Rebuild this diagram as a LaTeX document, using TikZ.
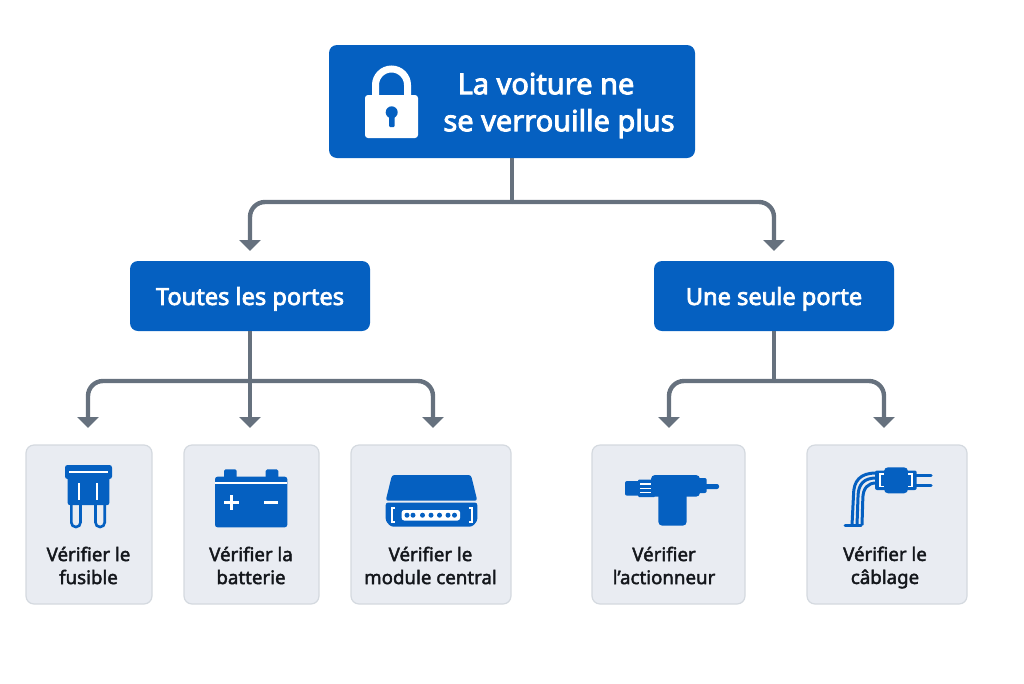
\documentclass[tikz,border=0pt]{standalone}
\usepackage{fontspec}
\setmainfont{Noto Sans}
\newfontfamily\leaffont[FakeBold=2.2]{Noto Sans}
\newfontfamily\boxfont[FakeBold=3]{Noto Sans}
\usetikzlibrary{calc,positioning,arrows.meta}
\definecolor{mainblue}{HTML}{0560C1}
\definecolor{linegrey}{HTML}{66717E}
\definecolor{leaffill}{HTML}{E9ECF2}
\definecolor{leafline}{HTML}{D4D9DF}
\definecolor{ink}{HTML}{14171C}

\begin{document}
\begin{tikzpicture}[
      x=1pt, y=-1pt,
      box/.style={rounded corners=8pt, fill=mainblue, text=white, inner sep=0pt, outer sep=0pt, text depth=0pt, font=\boxfont\fontsize{23.6}{28}\selectfont},
      leaf/.style={rounded corners=8pt, draw=leafline, line width=1.2pt, fill=leaffill, inner sep=0pt, outer sep=0pt, minimum height=159pt},
      lbl/.style={align=center, text=ink, inner sep=0pt, font=\leaffont\fontsize{18.7}{23}\selectfont},
      stem/.style={draw=linegrey, line width=4.4pt},
      arr/.style={draw=linegrey, line width=4.4pt, rounded corners=15pt, -{Triangle[width=21pt,length=11pt]}},
      ico/.style={fill=mainblue},
      wire/.style={draw=mainblue, line width=3pt}
    ]
    \useasboundingbox (0,0) rectangle (1024,683);

    % Top box
    \node[box, minimum width=366pt, minimum height=113pt] (root) at (512,101.5) {};
    \node[align=center, text=white, inner sep=0pt, font=\boxfont\fontsize{29}{37}\selectfont] (roottext) at (559,105.5) {La voiture ne\hspace*{26pt}\\se verrouille plus};

    % Lock
    \draw[white, line width=7pt] (375.5,98) -- (375.5,85) arc[start angle=180, end angle=360, radius=16] -- (407.5,98);
    \fill[white, rounded corners=3pt] (365,95) rectangle (418,138);
    \fill[mainblue] (391.7,112.3) circle (6);
    \fill[mainblue, rounded corners=1pt] (389,113) rectangle (394.5,127);

    % Row 2
    \node[box, minimum width=240pt, minimum height=70pt] (toutes) at (250,296) {Toutes les portes};
    \node[box, minimum width=240pt, minimum height=70pt] (uneseule) at (774,296) {Une seule porte};

    % Row 3
    \node[leaf, minimum width=126pt] (fusible)   at (89,524.5) {};
    \node[leaf, minimum width=135pt] (batterie)  at (251.5,524.5) {};
    \node[leaf, minimum width=160pt] (module)    at (431,524.5) {};
    \node[leaf, minimum width=153pt] (actionneur) at (668.5,524.5) {};
    \node[leaf, minimum width=160pt] (cablage)   at (887,524.5) {};

    \node[lbl] (lfusible)    at (88.5,565.5) {Vérifier le\\fusible};
    \node[lbl] (lbatterie)   at (251,565.5) {Vérifier la\\batterie};
    \node[lbl] (lmodule)     at (430.5,565.5) {Vérifier le\\module central};
    \node[lbl] (lactionneur) at (664,565.5) {Vérifier\\l’actionneur};
    \node[lbl] (lcablage)    at (885,567.5) {Vérifier le\\câblage};

    % Arrows
    \coordinate (trunk) at (512,202);
    \coordinate (splitl) at (250,381);
    \coordinate (splitr) at (774,381);
    \draw[stem] (root.south) -- (trunk);
    \draw[arr, shorten >=10pt] (trunk) -| (toutes.north);
    \draw[arr, shorten >=10pt] (trunk) -| (uneseule.north);
    \draw[arr, shorten >=17pt] (toutes.south) -- (toutes.south |- batterie.north);
    \draw[arr, shorten >=17pt] (splitl) -| ([xshift=-1pt]fusible.north);
    \draw[arr, shorten >=17pt] (splitl) -| ([xshift=2pt]module.north);
    \draw[stem] (uneseule.south) -- (splitr);
    \draw[arr, shorten >=17pt] (splitr) -| ([xshift=0.5pt]actionneur.north);
    \draw[arr, shorten >=17pt] (splitr) -| ([xshift=-3pt]cablage.north);

    % Fuse
    \draw[mainblue, line width=2.6pt, rounded corners=4.5pt] (71.3,500) -- (71.3,527) -- (80.5,527) -- (80.5,500);
    \draw[mainblue, line width=2.6pt, rounded corners=4.5pt] (95.5,500) -- (95.5,527) -- (104.7,527) -- (104.7,500);
    \fill[ico, rounded corners=2pt] (67.7,470) rectangle (109.3,505);
    \fill[ico, rounded corners=2.5pt] (65,465) rectangle (112,479);
    \draw[white, line width=1.8pt] (69,471.7) -- (108,471.7);
    \draw[white, line width=2pt] (79,483) -- (79,500);
    \draw[white, line width=2pt] (96.5,483) -- (96.5,500);

    % Battery
    \fill[ico, rounded corners=1.5pt] (224,469.3) rectangle (236.7,480);
    \fill[ico, rounded corners=1.5pt] (265.7,469.3) rectangle (278.3,480);
    \fill[ico, rounded corners=2.5pt] (215,476.7) rectangle (287.3,527.3);
    \draw[white, line width=1.8pt] (215,482.7) -- (287.3,482.7);
    \draw[white, line width=2.6pt] (224.2,502.3) -- (239.2,502.3) (231.7,495) -- (231.7,509.6);
    \draw[white, line width=2.6pt] (264.3,502.3) -- (278,502.3);

    % Central module
    \fill[ico, rounded corners=2.5pt] (392,475) -- (471,475) -- (477.3,500.7) -- (385.7,500.7) -- cycle;
    \fill[ico, rounded corners=2.5pt] (385.7,502.5) -- (477.3,502.5) -- (477.3,521) -- (472,526.7) -- (391,526.7) -- (385.7,521) -- cycle;
    \draw[white, line width=2pt] (394.5,507.5) -- (391.5,507.5) -- (391.5,521.5) -- (394.5,521.5);
    \draw[white, line width=2pt] (468.5,507.5) -- (471.5,507.5) -- (471.5,521.5) -- (468.5,521.5);
    \fill[white, rounded corners=2.5pt] (401.7,510) rectangle (460,520.5);
    \foreach \px in {407,413,422.5,431,439.5,448,454.5}
      \fill[mainblue] (\px,515.2) circle (2.5);

    % Actuator
    \fill[ico, rounded corners=2pt] (625,481) rectangle (640,495.7);
    \fill[ico, rounded corners=1pt] (638,479.5) rectangle (655,497);
    \fill[ico, rounded corners=4pt] (651,475) rectangle (700,496.7);
    \fill[ico, rounded corners=2pt] (698,478) rectangle (706.7,493);
    \fill[ico, rounded corners=2pt] (704,484) rectangle (719,489);
    \fill[ico, rounded corners=4pt] (658.3,490) rectangle (686.7,525.7);
    \foreach \py in {484,488.3,492.7}
      \draw[white, line width=1.2pt] (640,\py) -- (651,\py);

    % Wiring
    \draw[wire, line cap=round] (845,525.5) -- (861,525.5);
    \draw[wire] (876,473) .. controls (860,473) and (853.5,481) .. (853.5,495) -- (852,525);
    \draw[wire] (876,478) .. controls (864,478) and (858,484) .. (858,497) -- (857,525);
    \draw[wire] (876,483) .. controls (868,483) and (862.8,488) .. (862.8,499) -- (862,525);
    \fill[ico, rounded corners=2pt] (875,470.5) rectangle (886,490);
    \fill[ico, rounded corners=2pt] (906,470.5) rectangle (916.7,490);
    \fill[ico, rounded corners=4pt] (884,467.3) rectangle (908,493.3);
    \draw[white, line width=1.4pt] (884,474) -- (880,474) -- (880,486.5) -- (884,486.5);
    \draw[white, line width=1.4pt] (908,474) -- (912,474) -- (912,486.5) -- (908,486.5);
    \draw[wire, line cap=round] (916,475.7) -- (931,475.7);
    \draw[wire, line cap=round] (916,485) -- (931,485);
  \end{tikzpicture}
\end{document}
